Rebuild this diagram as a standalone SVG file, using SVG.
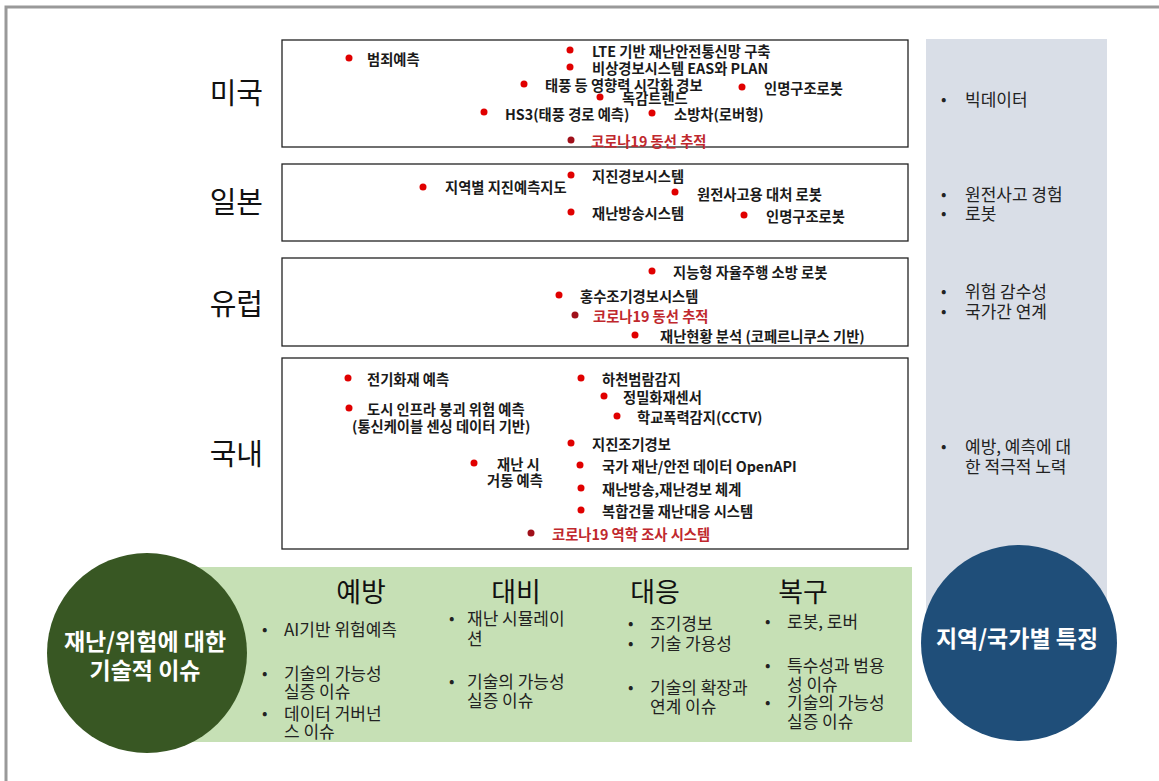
<svg xmlns="http://www.w3.org/2000/svg" width="1159" height="781" viewBox="0 0 1159 781">
<style>
text{font-family:"Noto Sans CJK KR","Noto Sans",sans-serif;dominant-baseline:central}
.country{font-size:29px;fill:#111;text-anchor:end}
.box{fill:#fff;stroke:#222;stroke-width:1.3}
.it{font-size:14.3px;font-weight:bold;fill:#1a1a1a}
.red{fill:#c0282d}
.dot{fill:#e00000}
.dd{fill:#a0101a}
.hd{font-size:27px;fill:#111;text-anchor:middle}
.bl{font-size:17px;fill:#222}
.bu{font-size:16px;fill:#222}
.ct{font-size:23px;font-weight:bold;fill:#fff;text-anchor:middle}
</style>
<rect width="1159" height="781" fill="#fff"/>
<path d="M6 781 V7 H1159" fill="none" stroke="#999" stroke-width="3"/>

<g id="region-column">
<rect x="926" y="39" width="181" height="600" fill="#d9dee7"/>
<text class="bu" x="941" y="98">•</text><text class="bl" x="965" y="98">빅데이터</text>
<text class="bu" x="941" y="193">•</text><text class="bl" x="965" y="193">원전사고 경험</text>
<text class="bu" x="941" y="212">•</text><text class="bl" x="965" y="212">로봇</text>
<text class="bu" x="941" y="290">•</text><text class="bl" x="965" y="290">위험 감수성</text>
<text class="bu" x="941" y="310">•</text><text class="bl" x="965" y="310">국가간 연계</text>
<text class="bu" x="941" y="445">•</text><text class="bl" x="965" y="445">예방, 예측에 대</text>
<text class="bl" x="965" y="465">한 적극적 노력</text>
</g>

<g id="usa">
<text class="country" x="263" y="91">미국</text>
<rect class="box" x="282" y="40" width="626" height="107"/>
<circle class="dot" cx="349" cy="58" r="3.5"/><text class="it" x="367" y="58">범죄예측</text>
<circle class="dot" cx="570" cy="50" r="3.5"/><text class="it" x="592" y="50">LTE 기반 재난안전통신망 구축</text>
<circle class="dot" cx="570" cy="67" r="3.5"/><text class="it" x="592" y="67">비상경보시스템 EAS와 PLAN</text>
<circle class="dot" cx="524" cy="84" r="3.5"/><text class="it" x="545" y="84">태풍 등 영향력 시각화 경보</text>
<circle class="dot" cx="742" cy="87" r="3.5"/><text class="it" x="764" y="87">인명구조로봇</text>
<circle class="dot" cx="600" cy="97" r="3.5"/><text class="it" x="622" y="97">독감트렌드</text>
<circle class="dot" cx="484" cy="112" r="3.5"/><text class="it" x="505" y="113">HS3(태풍 경로 예측)</text>
<circle class="dot" cx="652" cy="113" r="3.5"/><text class="it" x="674" y="113">소방차(로버형)</text>
<circle class="dd" cx="571" cy="140" r="3.5"/><text class="it red" x="591" y="140">코로나19 동선 추적</text>
</g>

<g id="japan">
<text class="country" x="263" y="200">일본</text>
<rect class="box" x="282" y="164" width="626" height="77"/>
<circle class="dot" cx="571" cy="175" r="3.5"/><text class="it" x="592" y="175">지진경보시스템</text>
<circle class="dot" cx="423" cy="187" r="3.5"/><text class="it" x="445" y="186">지역별 지진예측지도</text>
<circle class="dot" cx="675" cy="192" r="3.5"/><text class="it" x="697" y="193">원전사고용 대처 로봇</text>
<circle class="dot" cx="571" cy="212" r="3.5"/><text class="it" x="592" y="212">재난방송시스템</text>
<circle class="dot" cx="744" cy="215" r="3.5"/><text class="it" x="766" y="215">인명구조로봇</text>
</g>

<g id="europe">
<text class="country" x="263" y="302">유럽</text>
<rect class="box" x="282" y="258" width="626" height="88"/>
<circle class="dot" cx="652" cy="271" r="3.5"/><text class="it" x="673" y="271">지능형 자율주행 소방 로봇</text>
<circle class="dot" cx="559" cy="295" r="3.5"/><text class="it" x="580" y="295">홍수조기경보시스템</text>
<circle class="dd" cx="575" cy="315" r="3.5"/><text class="it red" x="593" y="315">코로나19 동선 추적</text>
<circle class="dot" cx="635" cy="335" r="3.5"/><text class="it" x="660" y="335">재난현황 분석 (코페르니쿠스 기반)</text>
</g>

<g id="korea">
<text class="country" x="263" y="452">국내</text>
<rect class="box" x="282" y="358" width="626" height="191"/>
<circle class="dot" cx="348" cy="378" r="3.5"/><text class="it" x="367" y="378">전기화재 예측</text>
<circle class="dot" cx="349" cy="408" r="3.5"/><text class="it" x="367" y="408">도시 인프라 붕괴 위험 예측</text>
<text class="it" x="352" y="425">(통신케이블 센싱 데이터 기반)</text>
<circle class="dot" cx="581" cy="378" r="3.5"/><text class="it" x="602" y="378">하천범람감지</text>
<circle class="dot" cx="604" cy="396" r="3.5"/><text class="it" x="623" y="396">정밀화재센서</text>
<circle class="dot" cx="617" cy="416" r="3.5"/><text class="it" x="637" y="416">학교폭력감지(CCTV)</text>
<circle class="dot" cx="571" cy="443" r="3.5"/><text class="it" x="592" y="443">지진조기경보</text>
<circle class="dot" cx="474" cy="463" r="3.5"/><text class="it" x="497" y="463">재난 시</text>
<text class="it" x="487" y="479">거동 예측</text>
<circle class="dot" cx="580" cy="465" r="3.5"/><text class="it" x="602" y="465">국가 재난/안전 데이터 OpenAPI</text>
<circle class="dot" cx="581" cy="488" r="3.5"/><text class="it" x="602" y="488">재난방송,재난경보 체계</text>
<circle class="dot" cx="581" cy="510" r="3.5"/><text class="it" x="602" y="510">복합건물 재난대응 시스템</text>
<circle class="dd" cx="531" cy="533" r="3.5"/><text class="it red" x="552" y="533">코로나19 역학 조사 시스템</text>
</g>

<g id="phases">
<rect x="140" y="567" width="772" height="175" fill="#c6e0b5"/>
<text class="hd" x="361" y="590">예방</text>
<text class="hd" x="516" y="590">대비</text>
<text class="hd" x="655" y="590">대응</text>
<text class="hd" x="803" y="590">복구</text>
<text class="bu" x="262" y="628">•</text><text class="bl" x="284" y="628">AI기반 위험예측</text>
<text class="bu" x="262" y="672">•</text><text class="bl" x="284" y="672">기술의 가능성</text>
<text class="bl" x="284" y="690">실증 이슈</text>
<text class="bu" x="262" y="712">•</text><text class="bl" x="284" y="712">데이터 거버넌</text>
<text class="bl" x="284" y="730">스 이슈</text>
<text class="bu" x="449" y="617">•</text><text class="bl" x="467" y="617">재난 시뮬레이</text>
<text class="bl" x="467" y="637">션</text>
<text class="bu" x="449" y="680">•</text><text class="bl" x="467" y="680">기술의 가능성</text>
<text class="bl" x="467" y="699">실증 이슈</text>
<text class="bu" x="628" y="622">•</text><text class="bl" x="650" y="622">조기경보</text>
<text class="bu" x="628" y="642">•</text><text class="bl" x="650" y="642">기술 가용성</text>
<text class="bu" x="628" y="686">•</text><text class="bl" x="650" y="686">기술의 확장과</text>
<text class="bl" x="650" y="705">연계 이슈</text>
<text class="bu" x="765" y="620">•</text><text class="bl" x="787" y="620">로봇, 로버</text>
<text class="bu" x="765" y="664">•</text><text class="bl" x="787" y="664">특수성과 범용</text>
<text class="bl" x="787" y="683">성 이슈</text>
<text class="bu" x="765" y="701">•</text><text class="bl" x="787" y="701">기술의 가능성</text>
<text class="bl" x="787" y="720">실증 이슈</text>
</g>

<g id="tech-issue">
<circle cx="147" cy="653" r="100" fill="#385723"/>
<text class="ct" x="145" y="640">재난/위험에 대한</text>
<text class="ct" x="145" y="669">기술적 이슈</text>
</g>

<g id="region-feature">
<circle cx="1019" cy="643" r="98" fill="#1f4e79"/>
<text class="ct" x="1017" y="637">지역/국가별 특징</text>
</g>
</svg>
